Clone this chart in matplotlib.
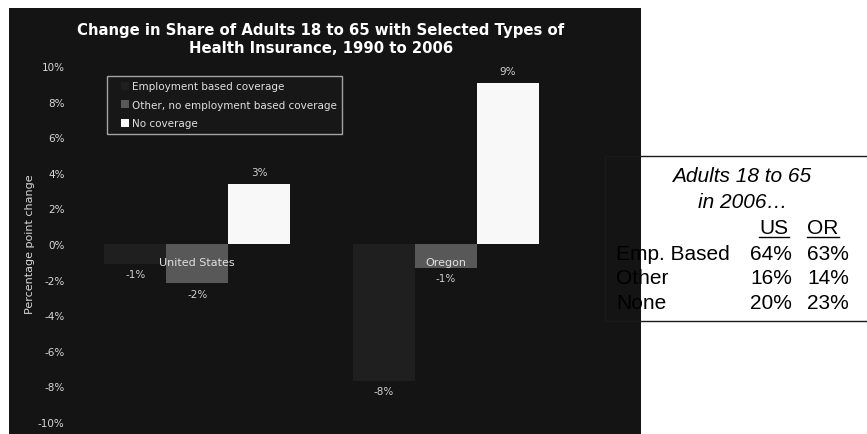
import matplotlib
matplotlib.use("Agg")
import matplotlib.pyplot as plt
from matplotlib.patches import Rectangle, Patch
from matplotlib.legend_handler import HandlerPatch
import numpy as np

# ---- data ----
regions = ["United States", "Oregon"]
series_names = ["Employment based coverage",
                "Other, no employment based coverage",
                "No coverage"]
emp_based = [-1.1, -7.7]
other_cov = [-2.2, -1.33]
no_cov = [3.37, 9.04]
yticks = [-10, -8, -6, -4, -2, 0, 2, 4, 6, 8, 10]

table_cols = ["US", "OR"]
table_rows = ["Emp. Based", "Other", "None"]
table_us = ["64%", "16%", "20%"]
table_or = ["63%", "14%", "23%"]

colors = ["#1f1f1f", "#585858", "#f8f8f8"]
W, H = 867, 435
fig = plt.figure(figsize=(W / 100, H / 100), dpi=100)
fig.patch.set_facecolor("white")

def fx(px):
    return px / W

def fy(py):
    return 1 - py / H

# table box fill (under the dark panel) and outline (over it)
box_xy = (fx(605), fy(322))
box_w, box_h = fx(300), fy(157) - fy(322)
fig.patches.append(Rectangle(box_xy, box_w, box_h, transform=fig.transFigure,
                             facecolor="white", edgecolor="none", zorder=0))
fig.patches.append(Rectangle(box_xy, box_w, box_h, transform=fig.transFigure,
                             facecolor="none", edgecolor="#1a1a1a", lw=1.0, zorder=3))
# dark panel
fig.patches.append(Rectangle((fx(9), 0), fx(641 - 9), fy(9), transform=fig.transFigure,
                             facecolor="#141414", edgecolor="none", zorder=0.5))

ax = fig.add_axes([fx(73), fy(423), fx(570 - 73), fy(67) - fy(423)], zorder=1)
ax.set_facecolor("none")
x = np.arange(len(regions))
bw = 0.25
all_series = [emp_based, other_cov, no_cov]
for i, (vals, c) in enumerate(zip(all_series, colors)):
    pos = x + (i - 1) * bw
    ax.bar(pos, vals, width=bw, color=c, edgecolor="none", zorder=2)
    for p, v in zip(pos, vals):
        off = 9 if v >= 0 else -7.5
        ax.annotate(f"{round(v):.0f}%", (p, v), xytext=(0, off), textcoords="offset points",
                    ha="center", va="center", fontsize=7.5, color="#d0d0d0")
for xi, name in zip(x, regions):
    ax.annotate(name, (xi, 0), xytext=(0, -13), textcoords="offset points",
                ha="center", va="center", fontsize=8, color="#e0e0e0", zorder=5)

ax.set_xlim(-0.5, 1.5)
ax.set_ylim(-10, 10)
ax.set_yticks(yticks)
ax.set_yticklabels([f"{t}%" for t in yticks])
ax.tick_params(axis="y", length=0, pad=6, labelsize=7.5, labelcolor="#d9d9d9")
ax.set_xticks([])
for s in ax.spines.values():
    s.set_visible(False)


class SquareHandler(HandlerPatch):
    def create_artists(self, legend, orig_handle, xdescent, ydescent, width, height,
                       fontsize, trans):
        s = 0.78 * fontsize
        r = Rectangle((width - xdescent - s, (height - s) / 2 - ydescent), s, s,
                      facecolor=orig_handle.get_facecolor(), edgecolor="none", transform=trans)
        return [r]


handles = [Patch(facecolor=c, edgecolor="none") for c in colors]
leg = ax.legend(handles, series_names, loc="upper left",
                bbox_to_anchor=(fx(107), fy(77)), bbox_transform=fig.transFigure,
                fontsize=7.5, labelcolor="#e0e0e0", frameon=True, fancybox=False,
                handler_map={Patch: SquareHandler()},
                handlelength=1.65, handleheight=0.9, handletextpad=0.25,
                labelspacing=0.82, borderpad=0.5, borderaxespad=0)
leg.get_frame().set_facecolor("#191919")
leg.get_frame().set_edgecolor("#c8c8c8")
leg.get_frame().set_linewidth(1.0)

fig.text(fx(321), fy(39.5),
         "Change in Share of Adults 18 to 65 with Selected Types of\nHealth Insurance, 1990 to 2006",
         ha="center", va="center", fontsize=10.7, fontweight="bold", color="white",
         linespacing=1.2, zorder=3)
fig.text(fx(30), fy(244), "Percentage point change", rotation=90, ha="center", va="center",
         fontsize=8, color="#d9d9d9", zorder=3)

# table text
tf = dict(family="Liberation Sans", color="black", zorder=3, fontsize=15)
fig.text(fx(742), fy(177), "Adults 18 to 65", ha="center", va="center", style="italic", **tf)
fig.text(fx(743), fy(203), "in 2006\u2026", ha="center", va="center", style="italic", **tf)
for cx, lab in zip([774, 823], table_cols):
    fig.text(fx(cx), fy(229), lab, ha="center", va="center", **tf)
fig.lines.append(plt.Line2D([fx(759), fx(789)], [fy(237.5), fy(237.5)], transform=fig.transFigure,
                            color="black", lw=1.0, zorder=3))
fig.lines.append(plt.Line2D([fx(807), fx(839)], [fy(237.5), fy(237.5)], transform=fig.transFigure,
                            color="black", lw=1.0, zorder=3))
for ry, lab, us, orv in zip([255, 278, 304], table_rows, table_us, table_or):
    fig.text(fx(616), fy(ry), lab, ha="left", va="center", **tf)
    fig.text(fx(792), fy(ry), us, ha="right", va="center", **tf)
    fig.text(fx(849), fy(ry), orv, ha="right", va="center", **tf)

fig.savefig("out.png", dpi=100)
